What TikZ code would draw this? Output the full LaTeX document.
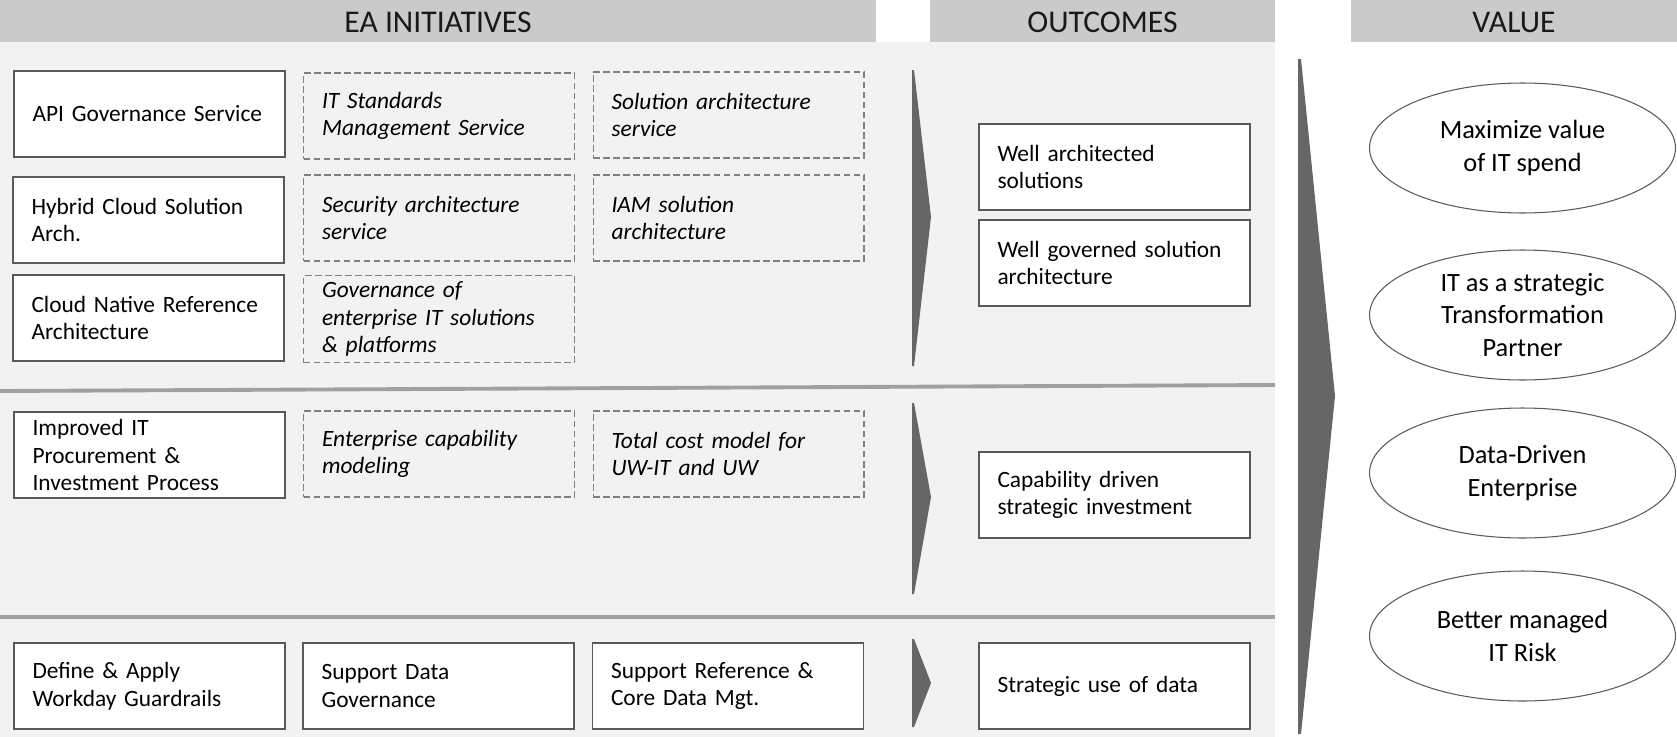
\documentclass[tikz,border=0pt]{standalone}
\usepackage{fontspec}
\setmainfont{Carlito}
\usepackage{tikz}
\usetikzlibrary{shapes.geometric, positioning}
\hyphenpenalty=10000
\exhyphenpenalty=10000

\definecolor{hdrgray}{HTML}{CACACA}
\definecolor{bggray}{HTML}{F2F2F2}
\definecolor{arrgray}{HTML}{666666}
\definecolor{linegray}{HTML}{A0A0A0}
\definecolor{boxline}{HTML}{5A5A5A}
\definecolor{dashline}{HTML}{808080}

\tikzset{
  header/.style={font=\fontsize{18}{21}\selectfont, text=black!90},
  initbox/.style={draw=boxline, line width=0.8pt, fill=white, minimum width=5.42cm, minimum height=1.72cm,
    text width=4.68cm, inner xsep=0.37cm, align=left, font=\fontsize{13.3}{15.8}\selectfont},
  dashbox/.style={initbox, draw=dashline, line width=0.6pt, fill=none, dash pattern=on 3.8pt off 1.9pt,
    font=\fontsize{13.3}{15.8}\selectfont\itshape},
  outbox/.style={initbox},
  valnode/.style={ellipse, draw=boxline, line width=0.6pt, fill=white, minimum width=6.12cm, minimum height=2.6cm,
    inner sep=0pt, align=center, font=\fontsize{15}{18.3}\selectfont},
  divider/.style={draw=linegray, line width=2.2pt},
  chevron/.style={fill=arrgray}
}

\begin{document}
\begin{tikzpicture}[x=0.02cm, y=-0.02cm]
\useasboundingbox (0,0) rectangle (1677,737);

% background and headers
\fill[bggray] (0,42) rectangle (1275,737);
\fill[hdrgray] (0,0) rectangle (876,42);
\fill[hdrgray] (930,0) rectangle (1275,42);
\fill[hdrgray] (1351,0) rectangle (1677,42);
\node[header] (hInit) at (438,22) {EA INITIATIVES};
\node[header] (hOut) at (1102.5,22) {OUTCOMES};
\node[header] (hVal) at (1514,22) {VALUE};

% section dividers
\draw[divider] (0,391) -- (1275,385);
\draw[divider] (0,617) -- (1275,617);

% initiatives, first block
\node[initbox] (api) at (149.5,114) {API Governance Service};
\node[dashbox] (itstd) at (439,116) {IT Standards\\Management Service};
\node[dashbox] (solarch) at (728.5,115) {Solution architecture\\service};
\node[initbox] (hybrid) at (148.5,220) {Hybrid Cloud Solution\\Arch.};
\node[dashbox] (secarch) at (439,218) {Security architecture\\service};
\node[dashbox] (iam) at (728.5,218) {IAM solution\\architecture};
\node[initbox] (cloudnat) at (148.5,318) {Cloud Native Reference\\Architecture};
\node[dashbox] (govent) at (439,319) {Governance of\\enterprise IT solutions\\\& platforms};

% initiatives, second block
\node[initbox] (procure) at (149.5,455) {Improved IT\\Procurement \&\\Investment Process};
\node[dashbox] (entcap) at (439,454) {Enterprise capability\\modeling};
\node[dashbox] (costmod) at (728.5,454) {Total cost model for\\UW-IT and UW};

% initiatives, third block
\node[initbox] (workday) at (149.5,686) {Define \& Apply\\Workday Guardrails};
\node[initbox] (datagov) at (438.5,686) {Support Data\\Governance};
\node[initbox] (refdata) at (728,686) {Support Reference \&\\Core Data Mgt.};

% chevrons to outcomes
\fill[chevron] (912,70) -- (914,70) -- (931,217) -- (914,366) -- (912,366) -- cycle;
\fill[chevron] (912,403) -- (914,403) -- (931,497) -- (914,594) -- (912,594) -- cycle;
\fill[chevron] (912,639) -- (914,639) -- (931,683) -- (914,727) -- (912,727) -- cycle;

% outcomes
\node[outbox] (wellarch) at (1114.5,167) {Well architected\\solutions};
\node[outbox] (wellgov) at (1114.5,263) {Well governed solution\\architecture};
\node[outbox] (capdrv) at (1114.5,495) {Capability driven\\strategic investment};
\node[outbox] (datause) at (1114.5,686) {Strategic use of data};

% chevron to value
\fill[chevron] (1298,59) -- (1301,59) -- (1335,396) -- (1301,734) -- (1298,734) -- cycle;

% value
\node[valnode] (maxval) at (1522.5,148) {Maximize value\\of IT spend};
\node[valnode] (partner) at (1522.5,315) {IT as a strategic\\Transformation\\Partner};
\node[valnode] (datadrv) at (1522.5,473) {Data-Driven\\Enterprise};
\node[valnode] (itrisk) at (1522.5,636) {Better managed\\IT Risk};
\end{tikzpicture}
\end{document}
